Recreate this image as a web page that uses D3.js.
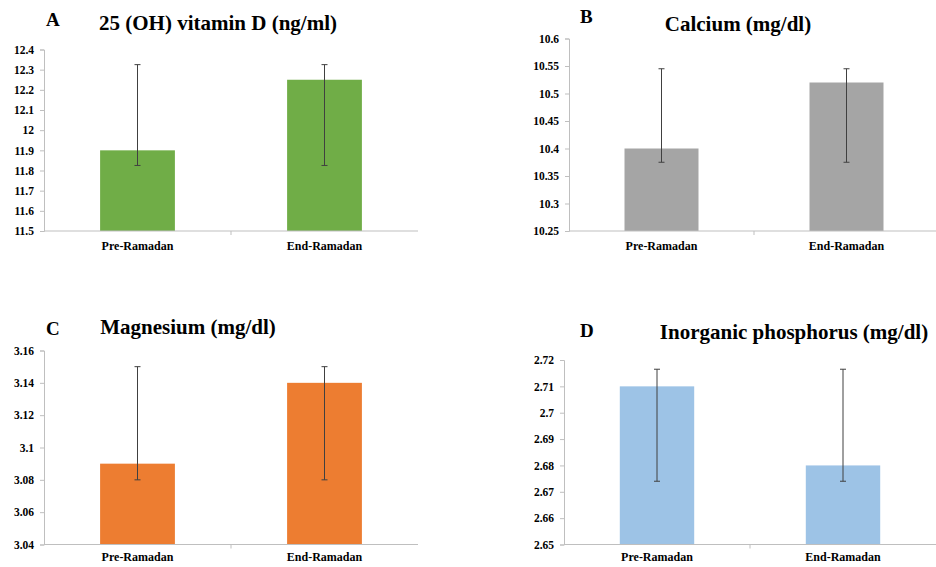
<!DOCTYPE html>
<html>
<head>
<meta charset="utf-8">
<script src="https://cdn.jsdelivr.net/npm/d3@7"></script>
<style>
  html, body { margin: 0; padding: 0; background: #fff; }
  svg { display: block; }
  svg text { font-family: "Liberation Serif", "Times New Roman", Times, Tinos, "DejaVu Serif", serif !important; font-weight: bold; }
</style>
</head>
<body>
<svg id="chart" width="936" height="567"></svg>
<script>
// ---- data ----
const categories = ["Pre-Ramadan", "End-Ramadan"];
const panelLetters = ["A", "B", "C", "D"];
const panelTitles = ["25 (OH) vitamin D (ng/ml)", "Calcium (mg/dl)", "Magnesium (mg/dl)", "Inorganic phosphorus (mg/dl)"];

const vitD = [11.9, 12.25];
const vitDLow = [11.825, 11.825];
const vitDHigh = [12.325, 12.325];
const vitDTicks = [11.5, 11.6, 11.7, 11.8, 11.9, 12, 12.1, 12.2, 12.3, 12.4];

const calcium = [10.4, 10.52];
const calciumLow = [10.375, 10.375];
const calciumHigh = [10.545, 10.545];
const calciumTicks = [10.25, 10.3, 10.35, 10.4, 10.45, 10.5, 10.55, 10.6];

const magnesium = [3.09, 3.14];
const magnesiumLow = [3.08, 3.08];
const magnesiumHigh = [3.15, 3.15];
const magnesiumTicks = [3.04, 3.06, 3.08, 3.1, 3.12, 3.14, 3.16];

const phosphorus = [2.71, 2.68];
const phosphorusLow = [2.674, 2.674];
const phosphorusHigh = [2.7165, 2.7165];
const phosphorusTicks = [2.65, 2.66, 2.67, 2.68, 2.69, 2.7, 2.71, 2.72];

const colors = ["#70ad47", "#a5a5a5", "#ed7d31", "#9dc3e6"];

// ---- layout ----
const layouts = [
  { x0: 44,  x1: 418, yTop: 49.5, yBot: 231, letterX: 46, letterY: 26, titleX: 218, titleY: 30, catY: 250 },
  { x0: 569, x1: 939, yTop: 38.5, yBot: 231, letterX: 580, letterY: 23, titleX: 738, titleY: 31, catY: 250 },
  { x0: 44,  x1: 418, yTop: 350.5, yBot: 544.5, letterX: 46, letterY: 335, titleX: 188, titleY: 334, catY: 561 },
  { x0: 564, x1: 936, yTop: 360, yBot: 544.5, letterX: 580, letterY: 337, titleX: 794, titleY: 339, catY: 561 }
];

const panels = [
  { values: vitD, low: vitDLow, high: vitDHigh, ticks: vitDTicks },
  { values: calcium, low: calciumLow, high: calciumHigh, ticks: calciumTicks },
  { values: magnesium, low: magnesiumLow, high: magnesiumHigh, ticks: magnesiumTicks },
  { values: phosphorus, low: phosphorusLow, high: phosphorusHigh, ticks: phosphorusTicks }
];

const svg = d3.select("#chart");
const FONT = "'Liberation Serif', 'Times New Roman', Times, Tinos, 'DejaVu Serif', serif";

panels.forEach((p, i) => {
  const L = layouts[i];
  const g = svg.append("g");
  const ticks = p.ticks;
  const y = d3.scaleLinear().domain([ticks[0], ticks[ticks.length - 1]]).range([L.yBot, L.yTop]);
  const x = d3.scaleBand().domain(categories).range([L.x0, L.x1]).paddingInner(0.6).paddingOuter(0.3);
  const xb = d3.scaleBand().domain(categories).range([L.x0, L.x1]);

  // y axis
  const yAxis = g.append("g").attr("transform", `translate(${L.x0},0)`)
    .call(d3.axisLeft(y).tickValues(ticks).tickSize(4).tickPadding(6).tickFormat(d => String(+d.toFixed(4))));
  yAxis.attr("font-family", FONT).attr("font-size", 11.5);
  yAxis.select(".domain").attr("stroke", "#bfbfbf");
  yAxis.selectAll(".tick line").attr("stroke", "#bfbfbf");
  yAxis.selectAll(".tick text").attr("fill", "#000").attr("font-family", FONT).attr("font-weight", "bold").attr("font-size", 11.5);

  // bars
  g.selectAll("rect.bar").data(p.values).enter().append("rect")
    .attr("x", (d, j) => x(categories[j]))
    .attr("width", x.bandwidth())
    .attr("y", d => y(d))
    .attr("height", d => L.yBot - y(d))
    .attr("fill", colors[i]);

  // x axis
  const xAxis = g.append("g").attr("transform", `translate(0,${L.yBot})`)
    .call(d3.axisBottom(xb).tickSize(0).tickFormat(""));
  xAxis.select(".domain").attr("stroke", "#bfbfbf").attr("d", `M${L.x0},0H${L.x1}`);
  g.append("line")
    .attr("x1", xb(categories[1])).attr("x2", xb(categories[1]))
    .attr("y1", L.yBot).attr("y2", L.yBot + 4)
    .attr("stroke", "#bfbfbf");

  // category labels
  g.selectAll("text.cat").data(categories).enter().append("text")
    .attr("x", d => xb(d) + xb.bandwidth() / 2)
    .attr("y", L.catY)
    .attr("text-anchor", "middle")
    .attr("font-family", FONT).attr("font-weight", "bold")
    .attr("font-size", 12)
    .text(d => d);

  // error bars
  p.values.forEach((v, j) => {
    const cx = x(categories[j]) + x.bandwidth() / 2;
    const eg = g.append("g").attr("stroke", "#404040").attr("stroke-width", 1);
    eg.append("line").attr("x1", cx).attr("x2", cx).attr("y1", y(p.low[j])).attr("y2", y(p.high[j]));
    eg.append("line").attr("x1", cx - 3).attr("x2", cx + 3).attr("y1", y(p.low[j])).attr("y2", y(p.low[j]));
    eg.append("line").attr("x1", cx - 3).attr("x2", cx + 3).attr("y1", y(p.high[j])).attr("y2", y(p.high[j]));
  });

  // letter + title
  g.append("text").attr("x", L.letterX).attr("y", L.letterY)
    .attr("font-family", FONT).attr("font-weight", "bold").attr("font-size", 19).text(panelLetters[i]);
  g.append("text").attr("x", L.titleX).attr("y", L.titleY).attr("text-anchor", "middle")
    .attr("font-family", FONT).attr("font-weight", "bold").attr("font-size", 21).text(panelTitles[i]);
});
</script>
</body>
</html>
